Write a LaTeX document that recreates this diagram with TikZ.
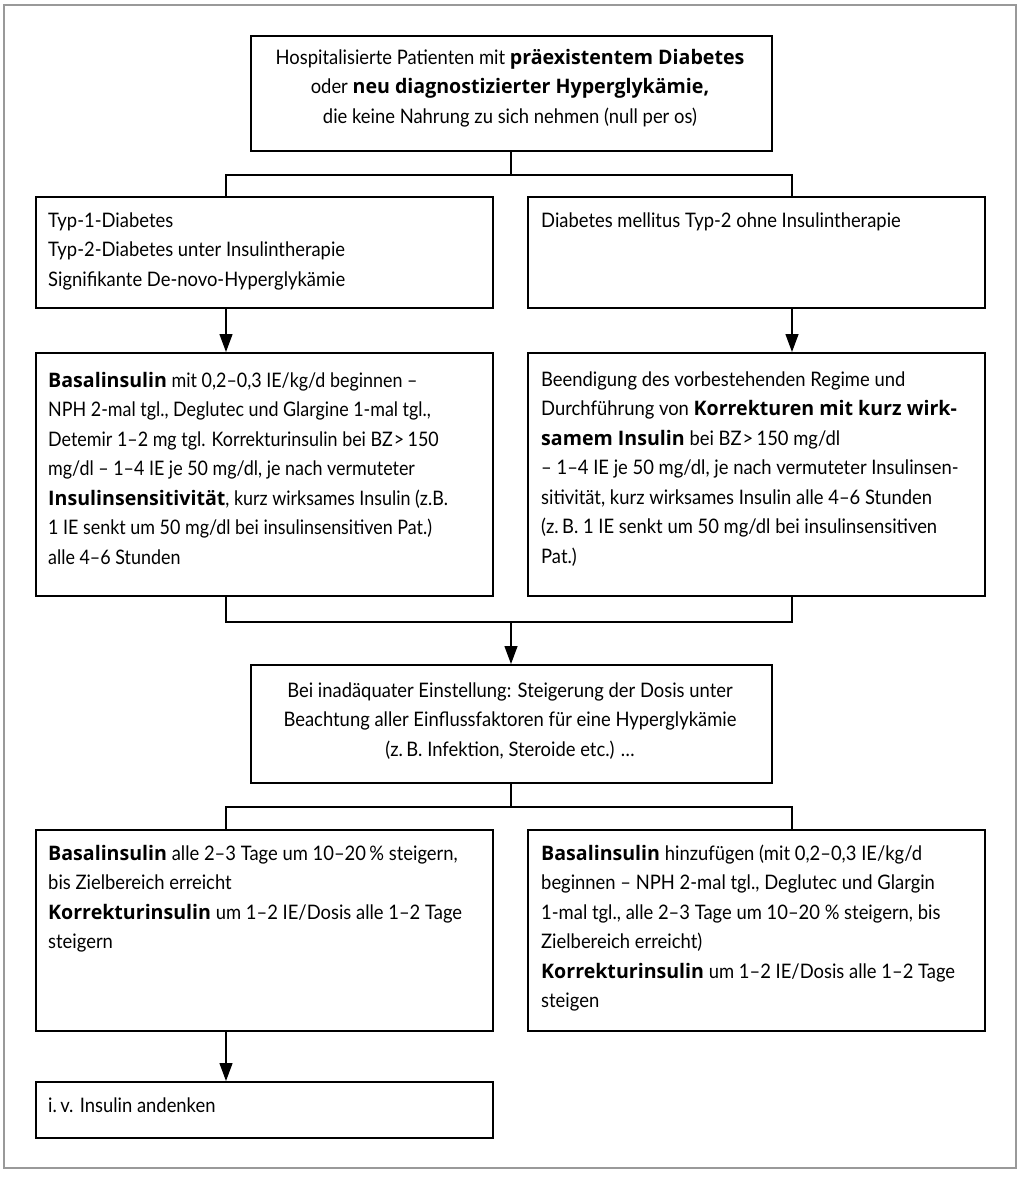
\documentclass[tikz,border=0pt]{standalone}
\usepackage{fontspec}
\setmainfont{Lato}[FakeStretch=0.92]
\newfontfamily\condfam{Lato}[FakeStretch=0.895]
\newfontfamily\boldfam{Open Sans}[FakeStretch=0.98]
\usetikzlibrary{arrows.meta}
\newcommand{\bx}[1]{{\boldfam\bfseries #1}}
\newcommand{\txtsize}{\fontsize{20}{29.5}\selectfont}
\begin{document}
\begin{tikzpicture}[x=1pt,y=-1pt,
  box/.style={draw=black, line width=2pt, anchor=north west, inner sep=0pt},
  ltxt/.style={anchor=base west, inner sep=0pt},
  ctxt/.style={anchor=base, inner sep=0pt},
  conn/.style={draw=black, line width=1.3pt},
  arr/.style={draw=black, line width=1.3pt, -{Triangle[length=18pt,width=13pt]}}]
\useasboundingbox (0,0) rectangle (1024,1178);
\draw[draw=black!40, line width=1.6pt] (4,5) rectangle (1016,1168);
% boxes
\node[box, minimum width=521pt, minimum height=115pt] (top) at (249.5,35) {};
\node[box, minimum width=457pt, minimum height=111pt] (b2l) at (35,196) {};
\node[box, minimum width=457pt, minimum height=111pt] (b2r) at (527,196) {};
\node[box, minimum width=457pt, minimum height=243pt] (b3l) at (35,352) {};
\node[box, minimum width=457pt, minimum height=243pt] (b3r) at (527,352) {};
\node[box, minimum width=521pt, minimum height=118pt] (mid) at (249.5,664) {};
\node[box, minimum width=457pt, minimum height=201pt] (b5l) at (35,829) {};
\node[box, minimum width=457pt, minimum height=201pt] (b5r) at (527,829) {};
\node[box, minimum width=457pt, minimum height=56pt] (bot) at (35,1081) {};
% texts
\node[ctxt] (ttop) at (510,64) {\parbox[t]{600pt}{\centering\txtsize
Hospitalisierte Patienten mit \bx{präexistentem Diabetes}\\
oder \bx{neu diagnostizierter Hyperglykämie,}\\
die keine Nahrung zu sich nehmen (null per os)}};
\node[ltxt] (t2l) at (48,227) {\parbox[t]{600pt}{\raggedright\txtsize
Typ-1-Diabetes\\
Typ-2-Diabetes unter Insulintherapie\\
Signifikante De-novo-Hyperglykämie}};
\node[ltxt] (t2r) at (541,227) {\parbox[t]{600pt}{\raggedright\txtsize
Diabetes mellitus Typ-2 ohne Insulintherapie}};
\node[ltxt] (t3l) at (48,387) {\parbox[t]{600pt}{\raggedright\condfam\txtsize
\bx{Basalinsulin} mit 0,2–0,3 IE/kg/d beginnen –\\
NPH 2-mal tgl., Deglutec und Glargine 1-mal tgl.,\\
Detemir 1–2 mg tgl. Korrekturinsulin bei BZ\kern1pt>\,150\\
mg/dl – 1–4 IE je 50 mg/dl, je nach vermuteter\\
\bx{Insulinsensitivität}, kurz wirksames Insulin (z.B.\\
1 IE senkt um 50 mg/dl bei insulinsensitiven Pat.)\\
alle 4–6 Stunden}};
\node[ltxt] (t3r) at (541,386) {\parbox[t]{600pt}{\raggedright\txtsize
Beendigung des vorbestehenden Regime und\\
Durchführung von \bx{Korrekturen mit kurz wirk-}\\
\bx{samem Insulin} bei BZ\kern1pt>\,150 mg/dl\\
– 1–4 IE je 50 mg/dl, je nach vermuteter Insulinsen-\\
sitivität, kurz wirksames Insulin alle 4–6 Stunden\\
(z.\,B. 1 IE senkt um 50 mg/dl bei insulinsensitiven\\
Pat.)}};
\node[ctxt] (tmid) at (510,697) {\parbox[t]{600pt}{\centering\txtsize
Bei inadäquater Einstellung: Steigerung der Dosis unter\\
Beachtung aller Einflussfaktoren für eine Hyperglykämie\\
(z.\,B. Infektion, Steroide etc.) …}};
\node[ltxt] (t5l) at (48,860) {\parbox[t]{600pt}{\raggedright\txtsize
\bx{Basalinsulin} alle 2–3 Tage um 10–20\,\% steigern,\\
bis Zielbereich erreicht\\
\bx{Korrekturinsulin} um 1–2 IE/Dosis alle 1–2 Tage\\
steigern}};
\node[ltxt] (t5r) at (541,860) {\parbox[t]{600pt}{\raggedright\txtsize
\bx{Basalinsulin} hinzufügen (mit 0,2–0,3 IE/kg/d\\
beginnen – NPH 2-mal tgl., Deglutec und Glargin\\
1-mal tgl., alle 2–3 Tage um 10–20 \% steigern, bis\\
Zielbereich erreicht)\\
\bx{Korrekturinsulin} um 1–2 IE/Dosis alle 1–2 Tage\\
steigen}};
\node[ltxt] (tbot) at (48,1112) {\txtsize i.\,v. Insulin andenken};
% connectors
\path (top.south) ++(0,23) coordinate (jA);
\path (mid.north) ++(0,-42) coordinate (jB);
\path (mid.south) ++(0,23) coordinate (jC);
\draw[conn] (top.south) -- (jA);
\draw[conn] ([xshift=191pt]b2l.north west) |- (jA) -| ([xshift=265pt]b2r.north west);
\draw[arr] ([xshift=191pt]b2l.south west) -- ([xshift=191pt]b3l.north west);
\draw[arr] ([xshift=265pt]b2r.south west) -- ([xshift=265pt]b3r.north west);
\draw[conn] ([xshift=191pt]b3l.south west) |- (jB) -| ([xshift=265pt]b3r.south west);
\draw[arr] (jB) -- (mid.north);
\draw[conn] (mid.south) -- (jC);
\draw[conn] ([xshift=191pt]b5l.north west) |- (jC) -| ([xshift=265pt]b5r.north west);
\draw[arr] ([xshift=191pt]b5l.south west) -- ([xshift=191pt]bot.north west);
\end{tikzpicture}
\end{document}
